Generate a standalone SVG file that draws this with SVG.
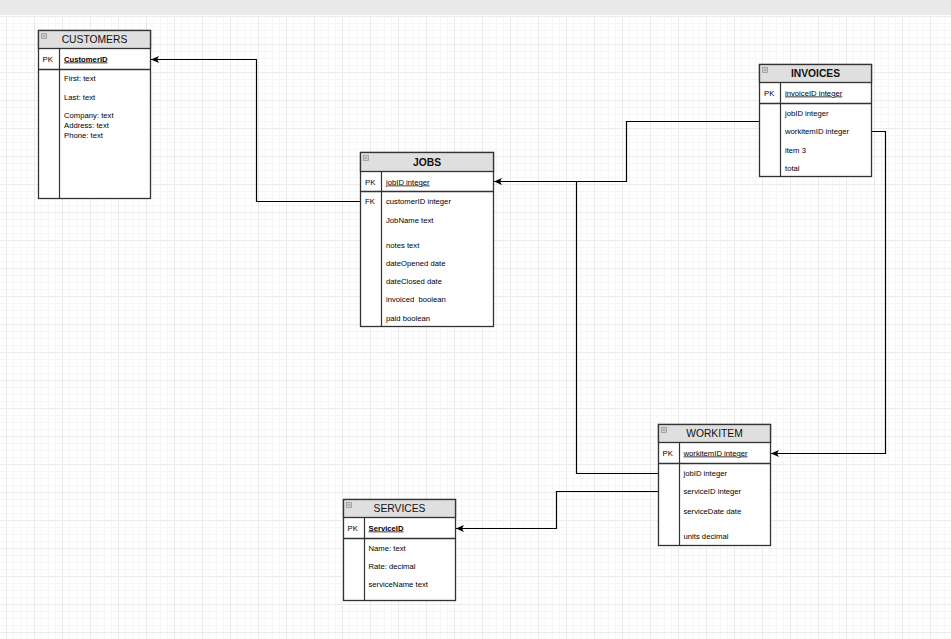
<svg xmlns="http://www.w3.org/2000/svg" width="951" height="639" viewBox="0 0 951 639">
<style>
.box{fill:#fff;stroke:#333;stroke-width:1.3}
.hdr{fill:#dfdfdf;stroke:#333;stroke-width:1.3}
.sep{stroke:#333;stroke-width:1.2;fill:none}
.sep2{stroke:#333;stroke-width:1.6;fill:none}
.ttl{font-family:"Liberation Sans",Arial,sans-serif;font-size:10.3px;fill:#111;text-anchor:middle}
.b{font-weight:bold}
.f{font-family:"Liberation Sans",Arial,sans-serif;font-size:7.7px;fill:#000}
.u{text-decoration:underline}
.icon{fill:#d0d0d0;stroke:#9a9a9a;stroke-width:0.8}
.conn{fill:none;stroke:#000;stroke-width:1.2}
</style>
<defs>
<pattern id="grid" x="6" y="16" width="28" height="28" patternUnits="userSpaceOnUse">
<path d="M7.5,0V28M14.5,0V28M21.5,0V28M0,7.5H28M0,14.5H28M0,21.5H28" stroke="#f6f6f6" stroke-width="1" fill="none"/>
<path d="M0.5,0V28M0,0.5H28" stroke="#ebebeb" stroke-width="1" fill="none"/>
</pattern>
<marker id="arr" markerUnits="userSpaceOnUse" markerWidth="9" markerHeight="8" refX="8" refY="3.5" orient="auto">
<path d="M0,0 L8,3.5 L0,7 L2,3.5 Z" fill="#000"/>
</marker>
</defs>
<rect x="0" y="0" width="951" height="639" fill="#fff"/>
<rect x="0" y="15" width="951" height="624" fill="url(#grid)"/>
<rect x="0" y="0" width="951" height="15" fill="#e9e9e9"/>

<g id="connectors">
<path class="conn" d="M360.5,201.5 H256.5 V59.5 H151" marker-end="url(#arr)"/>
<path class="conn" d="M759.5,121.5 H626.5 V181.5 H494" marker-end="url(#arr)"/>
<path class="conn" d="M658.5,473.5 H576.5 V181.5"/>
<path class="conn" d="M658.5,491.5 H556.5 V528.5 H456" marker-end="url(#arr)"/>
<path class="conn" d="M871.5,131.5 H885.5 V453.5 H771" marker-end="url(#arr)"/>
</g>

<g id="customers">
<rect class="box" x="38.5" y="30.5" width="112" height="168"/>
<rect class="hdr" x="38.5" y="30.5" width="112" height="18"/>
<rect class="icon" x="41.5" y="33.5" width="5" height="5"/>
<path d="M42.5,36 H45.5" stroke="#888" stroke-width="0.8"/>
<text class="ttl" x="94.5" y="43">CUSTOMERS</text>
<path class="sep2" d="M38.5,69.5 H150.5"/>
<path class="sep" d="M59.5,48.5 V198.5"/>
<text class="f" x="42.5" y="61.5">PK</text>
<text class="f b u" x="64" y="61.5">CustomerID</text>
<text class="f" x="64" y="81">First: text</text>
<text class="f" x="64" y="99.5">Last: text</text>
<text class="f" x="64" y="118">Company: text</text>
<text class="f" x="64" y="127.5">Address: text</text>
<text class="f" x="64" y="137.5">Phone: text</text>
</g>

<g id="jobs">
<rect class="box" x="360.5" y="152.5" width="133" height="174"/>
<rect class="hdr" x="360.5" y="152.5" width="133" height="19"/>
<rect class="icon" x="363.5" y="155.5" width="5" height="5"/>
<path d="M364.5,158 H367.5" stroke="#888" stroke-width="0.8"/>
<text class="ttl b" x="427" y="165.5">JOBS</text>
<path class="sep2" d="M360.5,191.5 H493.5"/>
<path class="sep" d="M381.5,171.5 V326.5"/>
<text class="f" x="365" y="184.5">PK</text>
<text class="f u" x="386" y="184.5">jobID integer</text>
<text class="f" x="365" y="204">FK</text>
<text class="f" x="386" y="204">customerID integer</text>
<text class="f" x="386" y="222.5">JobName text</text>
<text class="f" x="386" y="248">notes text</text>
<text class="f" x="386" y="266">dateOpened date</text>
<text class="f" x="386" y="284">dateClosed date</text>
<text class="f" x="386" y="302" xml:space="preserve">invoiced  boolean</text>
<text class="f" x="386" y="320.5">paid boolean</text>
</g>

<g id="invoices">
<rect class="box" x="759.5" y="64.5" width="112" height="112"/>
<rect class="hdr" x="759.5" y="64.5" width="112" height="18"/>
<rect class="icon" x="762.5" y="67.5" width="5" height="5"/>
<path d="M763.5,70 H766.5" stroke="#888" stroke-width="0.8"/>
<text class="ttl b" x="815.5" y="77">INVOICES</text>
<path class="sep2" d="M759.5,103.5 H871.5"/>
<path class="sep" d="M780.5,82.5 V176.5"/>
<text class="f" x="764" y="95.5">PK</text>
<text class="f u" x="785" y="95.5">invoiceID integer</text>
<text class="f" x="785" y="115.5">jobID integer</text>
<text class="f" x="785" y="134">workitemID integer</text>
<text class="f" x="785" y="152.5">item 3</text>
<text class="f" x="785" y="170.5">total</text>
</g>

<g id="workitem">
<rect class="box" x="658.5" y="424.5" width="112" height="121"/>
<rect class="hdr" x="658.5" y="424.5" width="112" height="18"/>
<rect class="icon" x="661.5" y="427.5" width="5" height="5"/>
<path d="M662.5,430 H665.5" stroke="#888" stroke-width="0.8"/>
<text class="ttl" x="714.5" y="437">WORKITEM</text>
<path class="sep2" d="M658.5,463.5 H770.5"/>
<path class="sep" d="M679.5,442.5 V545.5"/>
<text class="f" x="662.5" y="455.5">PK</text>
<text class="f u" x="683.5" y="455.5">workitemID integer</text>
<text class="f" x="683.5" y="475.5">jobID integer</text>
<text class="f" x="683.5" y="494">serviceID integer</text>
<text class="f" x="683.5" y="513.5">serviceDate date</text>
<text class="f" x="683.5" y="539">units decimal</text>
</g>

<g id="services">
<rect class="box" x="343.5" y="499.5" width="112" height="101"/>
<rect class="hdr" x="343.5" y="499.5" width="112" height="18"/>
<rect class="icon" x="346.5" y="502.5" width="5" height="5"/>
<path d="M347.5,505 H350.5" stroke="#888" stroke-width="0.8"/>
<text class="ttl" x="399.5" y="512">SERVICES</text>
<path class="sep2" d="M343.5,538.5 H455.5"/>
<path class="sep" d="M364.5,517.5 V600.5"/>
<text class="f" x="347.5" y="530.5">PK</text>
<text class="f b u" x="368.5" y="530.5">ServiceID</text>
<text class="f" x="368.5" y="550.5">Name: text</text>
<text class="f" x="368.5" y="569">Rate: decimal</text>
<text class="f" x="368.5" y="587">serviceName text</text>
</g>
</svg>
